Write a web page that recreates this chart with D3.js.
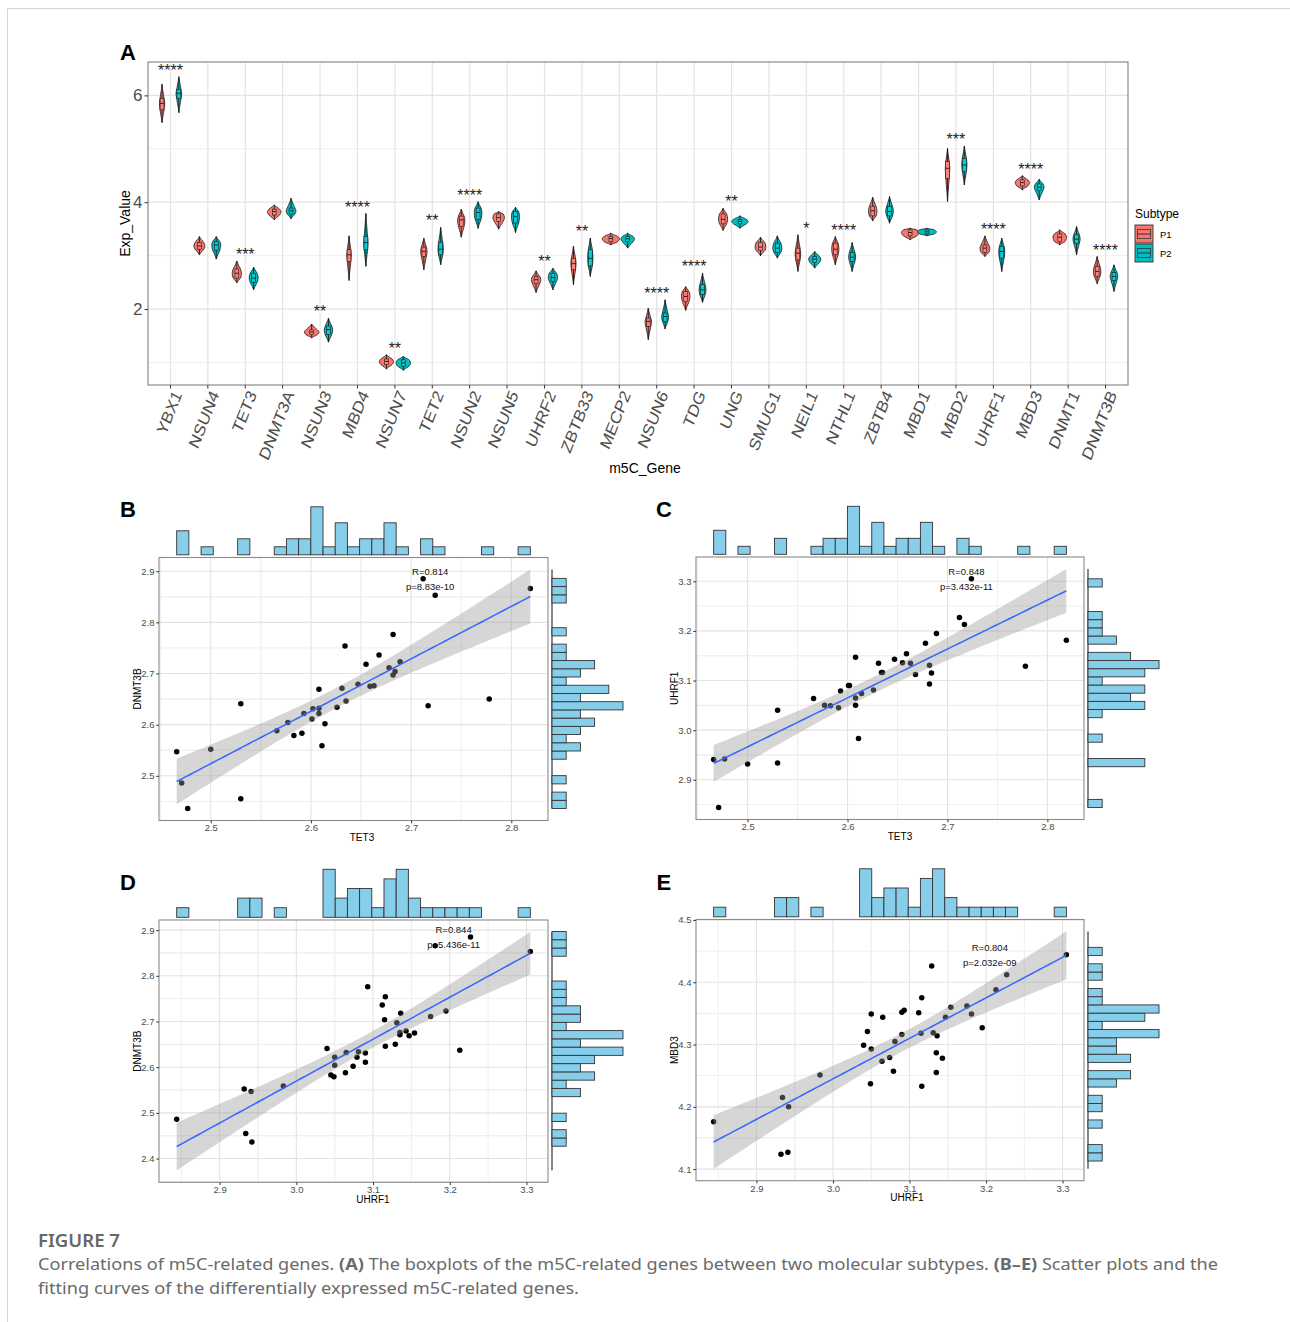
<!DOCTYPE html>
<html>
<head>
<meta charset="utf-8">
<script src="https://cdn.jsdelivr.net/npm/d3@7"></script>
<style>
  body { margin: 0; background: #fff; }
  svg { display: block; }
  text { font-family: "Liberation Sans", Arial, sans-serif; }
</style>
</head>
<body>
<div id="chart"></div>
<script>
// -------- Data: panel A (violins) --------
const genes = ['YBX1','NSUN4','TET3','DNMT3A','NSUN3','MBD4','NSUN7','TET2','NSUN2','NSUN5',
  'UHRF2','ZBTB33','MECP2','NSUN6','TDG','UNG','SMUG1','NEIL1','NTHL1','ZBTB4',
  'MBD1','MBD2','UHRF1','MBD3','DNMT1','DNMT3B'];
const subtypes = ['P1', 'P2'];
const sigLabels = ['****','','***','','**','****','**','**','****','',
  '**','**','','****','****','**','','*','****','',
  '','***','****','****','','****'];

// [min, q1, median, q3, max] per gene
const p1Stats = [
  [5.49, 5.73, 5.85, 5.94, 6.21], [3.015, 3.12, 3.18, 3.245, 3.358], [2.49, 2.58, 2.67, 2.75, 2.90],
  [3.67, 3.76, 3.825, 3.87, 3.95], [1.46, 1.52, 1.57, 1.61, 1.72], [2.535, 2.89, 3.015, 3.11, 3.37],
  [0.878, 0.96, 1.02, 1.065, 1.146], [2.735, 2.985, 3.08, 3.16, 3.327], [3.345, 3.545, 3.67, 3.74, 3.87],
  [3.495, 3.64, 3.71, 3.78, 3.825], [2.31, 2.475, 2.55, 2.61, 2.716], [2.455, 2.735, 2.85, 2.95, 3.18],
  [3.20, 3.26, 3.32, 3.36, 3.42], [1.427, 1.675, 1.77, 1.83, 2.018], [1.975, 2.14, 2.236, 2.33, 2.42],
  [3.47, 3.595, 3.68, 3.78, 3.887], [2.997, 3.096, 3.16, 3.245, 3.345], [2.704, 2.92, 3.046, 3.14, 3.39],
  [2.828, 3.015, 3.12, 3.233, 3.358], [3.65, 3.744, 3.84, 3.92, 4.093], [3.296, 3.37, 3.433, 3.482, 3.514],
  [4.012, 4.448, 4.635, 4.76, 5.009], [2.984, 3.06, 3.14, 3.20, 3.37], [4.23, 4.305, 4.367, 4.417, 4.498],
  [3.202, 3.264, 3.345, 3.408, 3.482], [2.473, 2.61, 2.704, 2.797, 2.984]
];
const p2Stats = [
  [5.676, 5.94, 6.04, 6.11, 6.35], [2.935, 3.10, 3.20, 3.265, 3.358], [2.36, 2.50, 2.58, 2.67, 2.785],
  [3.69, 3.78, 3.84, 3.89, 4.075], [1.38, 1.52, 1.615, 1.68, 1.83], [2.80, 3.11, 3.245, 3.36, 3.79],
  [0.853, 0.93, 0.99, 1.05, 1.115], [2.83, 3.015, 3.12, 3.245, 3.53], [3.51, 3.68, 3.81, 3.89, 4.01],
  [3.43, 3.61, 3.73, 3.825, 3.906], [2.36, 2.52, 2.59, 2.67, 2.766], [2.61, 2.81, 2.95, 3.11, 3.33],
  [3.14, 3.26, 3.315, 3.36, 3.42], [1.626, 1.77, 1.86, 1.925, 2.174], [2.124, 2.27, 2.36, 2.455, 2.672],
  [3.513, 3.595, 3.64, 3.68, 3.744], [2.953, 3.06, 3.14, 3.233, 3.37], [2.766, 2.872, 2.934, 2.984, 3.078],
  [2.704, 2.89, 2.97, 3.06, 3.246], [3.607, 3.744, 3.825, 3.92, 4.106], [3.37, 3.408, 3.445, 3.482, 3.514],
  [4.323, 4.573, 4.697, 4.822, 5.053], [2.704, 2.953, 3.078, 3.17, 3.327], [4.043, 4.218, 4.28, 4.342, 4.43],
  [3.015, 3.233, 3.308, 3.39, 3.545], [2.33, 2.535, 2.61, 2.685, 2.828]
];

// -------- Data: samples for panels B-E --------
const tet3 = [2.466, 2.471, 2.477, 2.500, 2.530, 2.530, 2.566, 2.577, 2.583, 2.591,
  2.593, 2.601, 2.602, 2.608, 2.608, 2.608, 2.611, 2.614, 2.626, 2.631,
  2.634, 2.635, 2.647, 2.655, 2.659, 2.663, 2.668, 2.678, 2.682, 2.682,
  2.684, 2.689, 2.712, 2.717, 2.724, 2.778, 2.819];
const uhrf1 = [2.941, 2.844, 2.942, 2.932, 3.040, 2.934, 3.064, 3.050, 3.049, 3.045,
  3.079, 3.090, 3.090, 3.147, 3.065, 3.050, 2.983, 3.074, 3.081, 3.135,
  3.116, 3.116, 3.143, 3.136, 3.154, 3.135, 3.112, 3.175, 3.093, 3.131,
  3.115, 3.195, 3.227, 3.213, 3.305, 3.129, 3.181];
const dnmt3b = [2.547, 2.486, 2.436, 2.552, 2.641, 2.455, 2.588, 2.604, 2.579, 2.583,
  2.622, 2.611, 2.631, 2.669, 2.632, 2.622, 2.559, 2.602, 2.634, 2.671,
  2.754, 2.646, 2.679, 2.718, 2.675, 2.676, 2.736, 2.711, 2.776, 2.697,
  2.704, 2.723, 2.885, 2.637, 2.853, 2.650, 2.866];
const mbd3 = [4.127, 4.176, 4.200, 4.124, 4.299, 4.215, 4.273, 4.293, 4.237, 4.321,
  4.257, 4.316, 4.352, 4.344, 4.344, 4.349, 4.251, 4.279, 4.305, 4.287,
  4.375, 4.233, 4.278, 4.314, 4.360, 4.255, 4.351, 4.362, 4.355, 4.319,
  4.318, 4.327, 4.412, 4.388, 4.444, 4.426, 4.349];

const corrLabels = [
  ['R=0.814', 'p=8.83e-10'],
  ['R=0.848', 'p=3.432e-11'],
  ['R=0.844', 'p=5.436e-11'],
  ['R=0.804', 'p=2.032e-09']
];

// -------- Canvas --------
const svg = d3.select('#chart').append('svg')
  .attr('width', 1290)
  .attr('height', 1322);

svg.append('path')
  .attr('d', 'M7.5,1322V8.5H1290')
  .attr('fill', 'none')
  .attr('stroke', '#d4d4d4')
  .attr('stroke-width', 1);

const tickGrey = '#4D4D4D';
const gridMajor = '#E3E3E3';
const gridMinor = '#EFEFEF';
const borderCol = '#8a8a8a';

function panelLetter(t, x, y) {
  svg.append('text').attr('x', x).attr('y', y)
    .style('font-size', '22px').style('font-weight', 'bold')
    .attr('fill', '#000').text(t);
}

// ======== Panel A ========
const A = { left: 148, top: 62, width: 980, height: 323 };
const allVals = p1Stats.concat(p2Stats).flat();
const [aMin, aMax] = d3.extent(allVals);
const aPad = (aMax - aMin) * 0.05;

const yA = d3.scaleLinear()
  .domain([aMin - aPad, aMax + aPad])
  .range([A.top + A.height, A.top]);
const xA = d3.scalePoint()
  .domain(genes)
  .range([A.left, A.left + A.width])
  .padding(0.6);
const dodge = xA.step() * 0.225;
const color = d3.scaleOrdinal().domain(subtypes).range(['#F8766D', '#00BFC4']);

const gA = svg.append('g');

// grid
gA.selectAll('line.minorA')
  .data([1, 3, 5])
  .join('line')
    .attr('x1', A.left).attr('x2', A.left + A.width)
    .attr('y1', d => yA(d)).attr('y2', d => yA(d))
    .attr('stroke', gridMinor).attr('stroke-width', 1);
gA.selectAll('line.majorA')
  .data([2, 4, 6])
  .join('line')
    .attr('x1', A.left).attr('x2', A.left + A.width)
    .attr('y1', d => yA(d)).attr('y2', d => yA(d))
    .attr('stroke', gridMajor).attr('stroke-width', 1.2);
gA.selectAll('line.vgridA')
  .data(genes)
  .join('line')
    .attr('x1', d => xA(d)).attr('x2', d => xA(d))
    .attr('y1', A.top).attr('y2', A.top + A.height)
    .attr('stroke', gridMajor).attr('stroke-width', 1.2);

// violins
const violinData = genes.flatMap((g, i) => [
  { gene: g, sub: 'P1', s: p1Stats[i], cx: xA(g) - dodge },
  { gene: g, sub: 'P2', s: p2Stats[i], cx: xA(g) + dodge }
]);

const violinArea = d3.area()
  .y(d => yA(d.v))
  .x0(d => d.cx - d.w)
  .x1(d => d.cx + d.w)
  .curve(d3.curveCatmullRom.alpha(0.5));

function profile(d) {
  const [mn, q1, md, q3, mx] = d.s;
  const hw = Math.max(2.2, Math.min(9.5, 1.9 / (mx - mn)));
  return [
    { v: mn, w: 0 },
    { v: mn + (q1 - mn) * 0.45, w: 0.3 * hw },
    { v: q1, w: 0.78 * hw },
    { v: md, w: hw },
    { v: q3, w: 0.78 * hw },
    { v: q3 + (mx - q3) * 0.55, w: 0.3 * hw },
    { v: mx, w: 0 }
  ].map(p => ({ ...p, cx: d.cx }));
}

const vg = gA.selectAll('g.violin')
  .data(violinData)
  .join('g');

vg.append('path')
  .attr('d', d => violinArea(profile(d)))
  .attr('fill', d => color(d.sub))
  .attr('stroke', '#1a1a1a')
  .attr('stroke-width', 0.8);

// inner boxplot
vg.append('line')
  .attr('x1', d => d.cx).attr('x2', d => d.cx)
  .attr('y1', d => yA(d.s[0])).attr('y2', d => yA(d.s[4]))
  .attr('stroke', '#1a1a1a').attr('stroke-width', 0.9);
vg.append('rect')
  .attr('x', d => d.cx - 1.9)
  .attr('width', 3.8)
  .attr('y', d => yA(d.s[3]))
  .attr('height', d => yA(d.s[1]) - yA(d.s[3]))
  .attr('fill', d => d3.color(color(d.sub)).brighter(0.25))
  .attr('stroke', '#1a1a1a')
  .attr('stroke-width', 0.6);
vg.append('line')
  .attr('x1', d => d.cx - 1.9).attr('x2', d => d.cx + 1.9)
  .attr('y1', d => yA(d.s[2])).attr('y2', d => yA(d.s[2]))
  .attr('stroke', '#1a1a1a').attr('stroke-width', 0.9);

// significance stars
gA.selectAll('text.sig')
  .data(genes.map((g, i) => ({ g, lab: sigLabels[i], top: Math.max(p1Stats[i][4], p2Stats[i][4]) }))
    .filter(d => d.lab))
  .join('text')
    .attr('x', d => xA(d.g))
    .attr('y', d => yA(d.top + 0.175) + 8.5)
    .attr('text-anchor', 'middle')
    .style('font-size', '16px')
    .attr('fill', '#222')
    .text(d => d.lab);

// border
gA.append('rect')
  .attr('x', A.left).attr('y', A.top)
  .attr('width', A.width).attr('height', A.height)
  .attr('fill', 'none').attr('stroke', borderCol).attr('stroke-width', 1.2);

// axes
const yAxisA = gA.append('g')
  .attr('transform', `translate(${A.left},0)`)
  .call(d3.axisLeft(yA).tickValues([2, 4, 6]).tickFormat(d3.format('d')).tickSize(3.5).tickPadding(2));
yAxisA.select('.domain').remove();
yAxisA.selectAll('line').attr('stroke', '#333');
yAxisA.selectAll('text').attr('fill', tickGrey).style('font-size', '17px');

gA.selectAll('line.xtickA')
  .data(genes)
  .join('line')
    .attr('x1', d => xA(d)).attr('x2', d => xA(d))
    .attr('y1', A.top + A.height).attr('y2', A.top + A.height + 3.5)
    .attr('stroke', '#333');

gA.selectAll('text.gene')
  .data(genes)
  .join('text')
    .attr('transform', d => `translate(${xA(d) + 2},${A.top + A.height + 4}) scale(0.85,1) rotate(-65)`)
    .attr('text-anchor', 'end')
    .attr('dy', '0.71em')
    .style('font-size', '18px')
    .attr('fill', tickGrey)
    .text(d => d);

gA.append('text')
  .attr('transform', `translate(130,${A.top + A.height / 2}) rotate(-90)`)
  .attr('text-anchor', 'middle')
  .style('font-size', '14px')
  .text('Exp_Value');
gA.append('text')
  .attr('x', 645).attr('y', 473)
  .attr('text-anchor', 'middle')
  .style('font-size', '14px')
  .text('m5C_Gene');

// legend
const leg = gA.append('g').attr('transform', 'translate(1135,0)');
leg.append('text').attr('x', 0).attr('y', 217.5).style('font-size', '12px').text('Subtype');
const keys = leg.selectAll('g.key')
  .data(subtypes)
  .join('g')
    .attr('transform', (d, i) => `translate(0,${225 + i * 19})`);
keys.append('rect')
  .attr('width', 18).attr('height', 18)
  .attr('fill', d => color(d)).attr('stroke', '#333').attr('stroke-width', 0.9);
keys.append('rect')
  .attr('x', 2.5).attr('y', 4.5).attr('width', 13).attr('height', 9)
  .attr('fill', 'none').attr('stroke', '#333').attr('stroke-width', 0.8);
keys.append('line')
  .attr('x1', 2.5).attr('x2', 15.5).attr('y1', 9).attr('y2', 9)
  .attr('stroke', '#333').attr('stroke-width', 1);
keys.append('text')
  .attr('x', 25).attr('y', 12.5)
  .style('font-size', '9.5px')
  .text(d => d);

panelLetter('A', 120, 60);

// ======== Panels B-E ========
const t975 = 2.03;   // t quantile, 35 df
const fmt1 = d3.format('.1f');

function tickValues(dom) {
  const lo = Math.ceil(dom[0] * 10 - 1e-6), hi = Math.floor(dom[1] * 10 + 0.02);
  return d3.range(lo, hi + 1).map(v => v / 10);
}

function scatterPanel(cfg) {
  const { xs, ys, left, top, w, h, xName, yName, labels, topBins, rightBins, titleDx } = cfg;
  const n = xs.length;
  const mx = d3.mean(xs), my = d3.mean(ys);
  const sxx = d3.sum(xs, v => (v - mx) ** 2);
  const sxy = d3.sum(xs, (v, i) => (v - mx) * (ys[i] - my));
  const b = sxy / sxx, a = my - b * mx;
  const s = Math.sqrt(d3.sum(xs, (v, i) => (ys[i] - a - b * v) ** 2) / (n - 2));
  const xExt = d3.extent(xs);
  const fit = d3.range(80).map(i => {
    const gx = xExt[0] + i * (xExt[1] - xExt[0]) / 79;
    const yh = a + b * gx;
    const se = s * Math.sqrt(1 / n + (gx - mx) ** 2 / sxx);
    return { x: gx, y: yh, lo: yh - t975 * se, hi: yh + t975 * se };
  });
  const yLo = Math.min(d3.min(ys), d3.min(fit, d => d.lo));
  const yHi = Math.max(d3.max(ys), d3.max(fit, d => d.hi));
  const xPad = (xExt[1] - xExt[0]) * 0.05, yPad = (yHi - yLo) * 0.05;

  const x = d3.scaleLinear().domain([xExt[0] - xPad, xExt[1] + xPad]).range([left, left + w]);
  const y = d3.scaleLinear().domain([yLo - yPad, yHi + yPad]).range([top + h, top]);

  const g = svg.append('g');
  const xt = tickValues(x.domain()), yt = tickValues(y.domain());
  const minor = (ts, dom) => ts.flatMap(t => [t - 0.05, t + 0.05])
    .filter((v, i, arr) => v > dom[0] && v < dom[1] && arr.indexOf(v) === i);

  // grid
  g.selectAll('line.xminor').data(minor(xt, x.domain())).join('line')
    .attr('x1', d => x(d)).attr('x2', d => x(d)).attr('y1', top).attr('y2', top + h)
    .attr('stroke', gridMinor);
  g.selectAll('line.yminor').data(minor(yt, y.domain())).join('line')
    .attr('y1', d => y(d)).attr('y2', d => y(d)).attr('x1', left).attr('x2', left + w)
    .attr('stroke', gridMinor);
  g.selectAll('line.xmajor').data(xt).join('line')
    .attr('x1', d => x(d)).attr('x2', d => x(d)).attr('y1', top).attr('y2', top + h)
    .attr('stroke', gridMajor).attr('stroke-width', 1.1);
  g.selectAll('line.ymajor').data(yt).join('line')
    .attr('y1', d => y(d)).attr('y2', d => y(d)).attr('x1', left).attr('x2', left + w)
    .attr('stroke', gridMajor).attr('stroke-width', 1.1);

  // points, then ribbon and fit on top
  g.selectAll('circle').data(xs).join('circle')
    .attr('cx', d => x(d))
    .attr('cy', (d, i) => y(ys[i]))
    .attr('r', 2.75)
    .attr('fill', '#000');

  g.append('path')
    .datum(fit)
    .attr('d', d3.area().x(d => x(d.x)).y0(d => y(d.lo)).y1(d => y(d.hi)))
    .attr('fill', '#999999').attr('fill-opacity', 0.4);
  g.append('path')
    .datum(fit)
    .attr('d', d3.line().x(d => x(d.x)).y(d => y(d.y)))
    .attr('fill', 'none').attr('stroke', '#3366FF').attr('stroke-width', 1.5);

  // correlation label
  const lx = x(xExt[1] - 0.1), ly = y(d3.max(ys));
  g.selectAll('text.corr').data(labels).join('text')
    .attr('x', lx).attr('y', (d, i) => ly - 7.5 + i * 15 + 3.4)
    .attr('text-anchor', 'middle')
    .style('font-size', '9.5px')
    .attr('fill', '#111')
    .text(d => d);

  // border
  g.append('rect').attr('x', left).attr('y', top).attr('width', w).attr('height', h)
    .attr('fill', 'none').attr('stroke', borderCol).attr('stroke-width', 1.1);

  // axes
  const ax = g.append('g').attr('transform', `translate(0,${top + h})`)
    .call(d3.axisBottom(x).tickValues(xt).tickFormat(fmt1).tickSize(2.75).tickPadding(1.5));
  const ay = g.append('g').attr('transform', `translate(${left},0)`)
    .call(d3.axisLeft(y).tickValues(yt).tickFormat(fmt1).tickSize(2.75).tickPadding(1.8));
  [ax, ay].forEach(axis => {
    axis.select('.domain').remove();
    axis.selectAll('line').attr('stroke', '#333');
    axis.selectAll('text').attr('fill', tickGrey).style('font-size', '9.5px');
  });

  g.append('text')
    .attr('x', left + w / 2 + titleDx).attr('y', top + h + 20.5)
    .attr('text-anchor', 'middle').style('font-size', '10px').text(xName);
  g.append('text')
    .attr('transform', `translate(${left - 18.5},${top + h / 2}) rotate(-90)`)
    .attr('text-anchor', 'middle').style('font-size', '10px').text(yName);

  // marginal histograms
  const binner = (spec) => d3.bin()
    .domain(spec.domain)
    .thresholds(d3.range(1, spec.n).map(i => spec.domain[0] + i * (spec.domain[1] - spec.domain[0]) / spec.n))(spec.vals);

  const tb = binner(topBins).filter(d => d.length > 0);
  const hTop = d3.scaleLinear().domain([0, d3.max(tb, d => d.length)]).range([0, 48]);
  const baseY = top - 2.7;
  g.selectAll('rect.top').data(tb).join('rect')
    .attr('x', d => x(d.x0)).attr('width', d => x(d.x1) - x(d.x0))
    .attr('y', d => baseY - hTop(d.length)).attr('height', d => hTop(d.length))
    .attr('fill', '#87CEEB').attr('stroke', '#333').attr('stroke-width', 0.9);

  const rb = binner(rightBins).filter(d => d.length > 0);
  const wRight = d3.scaleLinear().domain([0, d3.max(rb, d => d.length)]).range([0, 71]);
  const baseX = left + w + 4;
  g.append('line')
    .attr('x1', baseX).attr('x2', baseX).attr('y1', top + 12).attr('y2', top + h - 12)
    .attr('stroke', '#444').attr('stroke-width', 1.3);
  g.selectAll('rect.right').data(rb).join('rect')
    .attr('x', baseX).attr('width', d => wRight(d.length))
    .attr('y', d => y(d.x1)).attr('height', d => y(d.x0) - y(d.x1))
    .attr('fill', '#87CEEB').attr('stroke', '#333').attr('stroke-width', 0.9);
}

scatterPanel({ xs: tet3, ys: dnmt3b, left: 159, top: 557.5, w: 389, h: 263,
  xName: 'TET3', yName: 'DNMT3B', labels: corrLabels[0], titleDx: 8.5,
  topBins: { vals: tet3, domain: [2.466, 2.819], n: 29 },
  rightBins: { vals: dnmt3b, domain: [2.436, 2.886], n: 28 } });
scatterPanel({ xs: tet3, ys: uhrf1, left: 696, top: 557, w: 388, h: 262.5,
  xName: 'TET3', yName: 'UHRF1', labels: corrLabels[1], titleDx: 10,
  topBins: { vals: tet3, domain: [2.466, 2.819], n: 29 },
  rightBins: { vals: uhrf1, domain: [2.844, 3.305], n: 28 } });
scatterPanel({ xs: uhrf1, ys: dnmt3b, left: 159, top: 920, w: 389, h: 262.3,
  xName: 'UHRF1', yName: 'DNMT3B', labels: corrLabels[2], titleDx: 19.5,
  topBins: { vals: uhrf1, domain: [2.844, 3.305], n: 29 },
  rightBins: { vals: dnmt3b, domain: [2.427, 2.897], n: 26 } });
scatterPanel({ xs: uhrf1, ys: mbd3, left: 696, top: 919.5, w: 388, h: 261.2,
  xName: 'UHRF1', yName: 'MBD3', labels: corrLabels[3], titleDx: 17,
  topBins: { vals: uhrf1, domain: [2.844, 3.305], n: 29 },
  rightBins: { vals: mbd3, domain: [4.113, 4.456], n: 26 } });

panelLetter('B', 120, 516.7);
panelLetter('C', 656, 516.7);
panelLetter('D', 120, 890);
panelLetter('E', 656.5, 890);

// -------- Caption --------
const capFont = '"Noto Sans", "Open Sans", sans-serif';
svg.append('text')
  .attr('x', 38).attr('y', 1247)
  .style('font-family', capFont).style('font-size', '17px').style('font-weight', 600)
  .attr('fill', '#666')
  .attr('textLength', 82).attr('lengthAdjust', 'spacingAndGlyphs')
  .text('FIGURE 7');

const cap1 = svg.append('text')
  .attr('x', 38).attr('y', 1270)
  .style('font-family', capFont).style('font-size', '16.5px')
  .attr('fill', '#6a6a6a')
  .attr('textLength', 1180).attr('lengthAdjust', 'spacingAndGlyphs');
cap1.append('tspan').text('Correlations of m5C-related genes. ');
cap1.append('tspan').style('font-weight', 'bold').text('(A)');
cap1.append('tspan').text(' The boxplots of the m5C-related genes between two molecular subtypes. ');
cap1.append('tspan').style('font-weight', 'bold').text('(B\u2013E)');
cap1.append('tspan').text(' Scatter plots and the');

svg.append('text')
  .attr('x', 38).attr('y', 1294)
  .style('font-family', capFont).style('font-size', '16.5px')
  .attr('fill', '#6a6a6a')
  .attr('textLength', 541).attr('lengthAdjust', 'spacingAndGlyphs')
  .text('fitting curves of the differentially expressed m5C-related genes.');
</script>
</body>
</html>
